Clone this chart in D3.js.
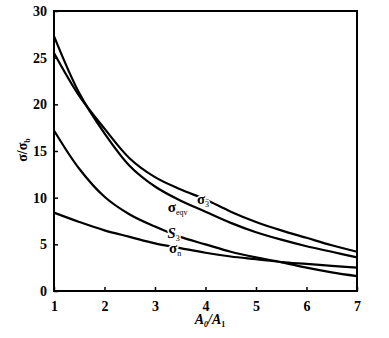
<!DOCTYPE html>
<html><head><meta charset="utf-8">
<script src="https://cdn.jsdelivr.net/npm/d3@7"></script>
<style>
body{margin:0;background:#fff;}
svg{display:block;font-family:"Liberation Serif","Times New Roman",serif;}
</style></head>
<body><svg id="c" width="389" height="338"></svg>
<script>
const xTicks = [1,2,3,4,5,6,7];
const yTicks = [0,5,10,15,20,25,30];
const xs = [1, 1.5, 2, 2.5, 3, 3.5, 4, 4.5, 5, 5.5, 6, 6.5, 7];
const sigma3 = [25.5, 20.9, 17.4, 14.2, 12.2, 10.9, 9.8, 8.5, 7.4, 6.5, 5.7, 4.9, 4.2];
const sigmaEqv = [27.3, 21.2, 16.9, 13.4, 11.2, 9.7, 8.5, 7.3, 6.3, 5.5, 4.8, 4.2, 3.6];
const s3 = [17.2, 13.1, 10.1, 8.2, 6.9, 5.8, 5.0, 4.2, 3.6, 3.1, 2.5, 2.0, 1.6];
const sigmaN = [8.4, 7.4, 6.5, 5.8, 5.1, 4.6, 4.1, 3.7, 3.4, 3.1, 2.9, 2.7, 2.5];
const labels = [
  {base:"σ", sub:"3", x:3.95, y:9.9, italic:false},
  {base:"σ", sub:"eqv", x:3.45, y:9.0, italic:false},
  {base:"S", sub:"3", x:3.37, y:6.2, italic:true},
  {base:"σ", sub:"n", x:3.4, y:4.6, italic:false}
];

const svg = d3.select("#c");
const m = {l:54, r:32, t:11, b:47};
const W = 389, H = 338;
const x = d3.scaleLinear().domain([1,7]).range([m.l, W-m.r]);
const y = d3.scaleLinear().domain([0,30]).range([H-m.b, m.t]);

const line = d3.line().x((d,i)=>x(xs[i])).y(d=>y(d)).curve(d3.curveCatmullRom.alpha(0.5));
[sigma3, sigmaEqv, s3, sigmaN].forEach(s=>{
  svg.append("path").attr("d", line(s)).attr("fill","none").attr("stroke","#000").attr("stroke-width",2.2);
});

// frame
svg.append("rect").attr("x",x(1)).attr("y",y(30)).attr("width",x(7)-x(1)).attr("height",y(0)-y(30))
  .attr("fill","none").attr("stroke","#000").attr("stroke-width",2);

const xa = svg.append("g").attr("transform",`translate(0,${y(0)})`)
  .call(d3.axisBottom(x).tickValues(xTicks).tickSizeInner(-4).tickSizeOuter(0).tickPadding(10).tickFormat(d3.format("d")));
const ya = svg.append("g").attr("transform",`translate(${x(1)},0)`)
  .call(d3.axisLeft(y).tickValues(yTicks).tickSizeInner(-4).tickSizeOuter(0).tickPadding(7).tickFormat(d3.format("d")));
[xa,ya].forEach(a=>{
  a.select(".domain").remove();
  a.selectAll("line").attr("stroke","#000").attr("stroke-width",1.5);
  a.selectAll("text").attr("font-family","Liberation Serif").attr("font-size",14).attr("font-weight","bold").attr("fill","#000");
});

// curve labels
labels.forEach(l=>{
  const t = svg.append("text").attr("x",x(l.x)).attr("y",y(l.y)+5)
    .attr("text-anchor","middle").attr("font-size",15).attr("font-weight","bold")
    .attr("stroke","#fff").attr("stroke-width",3).attr("paint-order","stroke").attr("fill","#000");
  t.append("tspan").text(l.base).attr("font-style", l.italic?"italic":"normal");
  t.append("tspan").text(l.sub).attr("font-size",8).attr("dy",3).attr("font-weight","normal");
});

// axis titles
const yl = svg.append("text").attr("transform",`translate(27,150) rotate(-90)`)
  .attr("text-anchor","middle").attr("font-size",14).attr("font-weight","bold");
yl.append("tspan").text("σ/σ");
yl.append("tspan").text("b").attr("font-size",8).attr("dy",3);

const xl = svg.append("text").attr("x",210).attr("y",324).attr("text-anchor","middle")
  .attr("font-size",14).attr("font-style","italic").attr("font-weight","bold");
xl.append("tspan").text("A");
xl.append("tspan").text("0").attr("font-size",8).attr("dy",3);
xl.append("tspan").text("/A").attr("dy",-3);
xl.append("tspan").text("1").attr("font-size",8).attr("dy",3).attr("font-style","normal");
</script></body></html>
